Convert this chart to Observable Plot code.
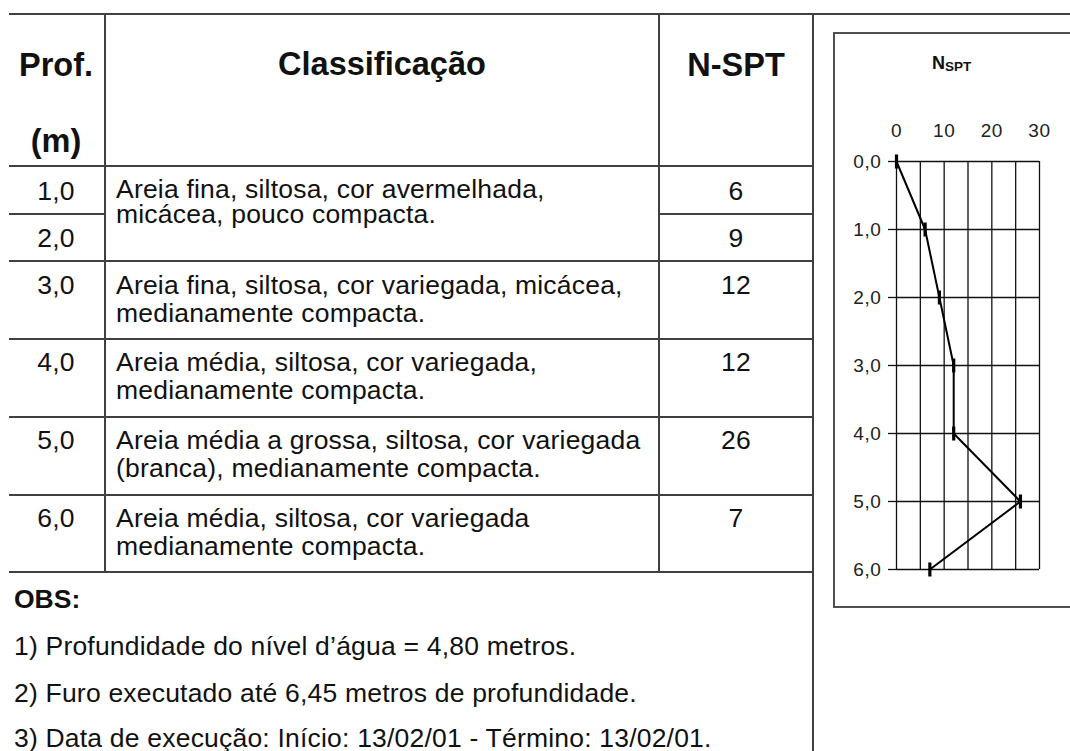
<!DOCTYPE html>
<html>
<head>
<meta charset="utf-8">
<script src="https://cdn.jsdelivr.net/npm/d3@7"></script>
<script src="https://cdn.jsdelivr.net/npm/@observablehq/plot@0.6"></script>
<style>
  html, body { margin: 0; padding: 0; background: #fff; }
  body { width: 1070px; height: 751px; overflow: hidden; position: relative;
         font-family: "Liberation Sans", Arial, sans-serif; color: #111; }
  .t { position: absolute; white-space: nowrap; }
  .ln { position: absolute; background: #404040; }
  #box { position: absolute; left: 833px; top: 32px; width: 300px; height: 572px;
         border: 2px solid #505050; border-right: none; }
  #chart { position: absolute; left: 834px; top: 33px; }
</style>
</head>
<body>
<script>
// ---------- data ----------
const depths = [0, 1, 2, 3, 4, 5, 6];
const nsptProfile = [0, 6, 9, 12, 12, 26, 7];
const profLabels = ["1,0", "2,0", "3,0", "4,0", "5,0", "6,0"];
const nsptValues = [6, 9, 12, 12, 26, 7];
const classificacao = [
  ["Areia fina, siltosa, cor avermelhada,", "micácea, pouco compacta."],
  ["Areia fina, siltosa, cor variegada, micácea,", "medianamente compacta."],
  ["Areia média, siltosa, cor variegada,", "medianamente compacta."],
  ["Areia média a grossa, siltosa, cor variegada", "(branca), medianamente compacta."],
  ["Areia média, siltosa, cor variegada", "medianamente compacta."]
];
const headers = ["Prof.", "(m)", "Classificação", "N-SPT"];
const obsTitle = "OBS:";
const obsLines = [
  "1) Profundidade do nível d’água = 4,80 metros.",
  "2) Furo executado até 6,45 metros de profundidade.",
  "3) Data de execução: Início: 13/02/01 - Término: 13/02/01."
];
const chartTitle = ["N", "SPT"];
const xLabelTicks = [0, 10, 20, 30];
const xGridTicks = [0, 5, 10, 15, 20, 25, 30];
const yTicks = [0, 1, 2, 3, 4, 5, 6];

// ---------- helpers ----------
// place one line of text so that its baseline sits at `base`
function put(text, x, base, size, opts = {}) {
  const lh = opts.lineHeight || size;
  const d = document.createElement("div");
  d.className = "t";
  d.textContent = text;
  d.style.fontSize = size + "px";
  d.style.lineHeight = lh + "px";
  d.style.fontWeight = opts.bold ? "bold" : "normal";
  d.style.left = x + "px";
  d.style.top = (base - ((lh - 1.117 * size) / 2 + 0.905 * size)) + "px";
  if (opts.anchor === "middle") d.style.transform = "translateX(-50%)";
  if (opts.anchor === "end") d.style.transform = "translateX(-100%)";
  if (opts.letterSpacing) d.style.letterSpacing = opts.letterSpacing + "px";
  document.body.appendChild(d);
  return d;
}
function hline(x1, x2, y) {
  const d = document.createElement("div");
  d.className = "ln";
  Object.assign(d.style, {left: x1 + "px", top: (y - 1) + "px", width: (x2 - x1) + "px", height: "2px"});
  document.body.appendChild(d);
}
function vline(x, y1, y2) {
  const d = document.createElement("div");
  d.className = "ln";
  Object.assign(d.style, {left: (x - 1) + "px", top: y1 + "px", width: "2px", height: (y2 - y1) + "px"});
  document.body.appendChild(d);
}

// ---------- table grid ----------
const L = 9, C1 = 105, C2 = 659, R = 813;
const rowY = [166, 214, 261, 339, 417, 495, 572];
hline(L, 1070, 14);
hline(L, R, rowY[0]);
hline(L, C1, rowY[1]);
hline(C2, R, rowY[1]);
for (let i = 2; i < rowY.length; i++) hline(L, R, rowY[i]);
vline(C1, 14, rowY[6]);
vline(C2, 14, rowY[6]);
vline(R, 14, 751);

// ---------- header ----------
const HS = 32.5;
put(headers[0], 56, 77, HS, {bold: true, anchor: "middle"});
put(headers[1], 56, 153, HS, {bold: true, anchor: "middle"});
put(headers[2], 382, 76, HS, {bold: true, anchor: "middle"});
put(headers[3], 736, 77, HS, {bold: true, anchor: "middle"});

// ---------- rows ----------
const BS = 26.5, LS = 0.2, TLH = 22;
const profBase = [200, 247, 294, 371, 449, 527];
profLabels.forEach((p, i) => put(p, 56, profBase[i], BS, {anchor: "middle", letterSpacing: LS, lineHeight: TLH}));
nsptValues.forEach((v, i) => put(String(v), 736, profBase[i], BS, {anchor: "middle", letterSpacing: LS, lineHeight: TLH}));
const classBase = [198, 294, 371, 449, 527];
const classLead = [25, 28, 28, 28, 28];
classificacao.forEach((lines, i) =>
  lines.forEach((t, j) => put(t, 116, classBase[i] + j * classLead[i], BS, {lineHeight: TLH, letterSpacing: LS})));

// ---------- observations ----------
put(obsTitle, 14, 608, BS, {bold: true, lineHeight: TLH});
const obsBase = [655, 702, 747];
obsLines.forEach((t, i) => put(t, 14, obsBase[i], BS, {letterSpacing: LS, lineHeight: TLH}));

// ---------- chart ----------
const box = document.createElement("div");
box.id = "box";
document.body.appendChild(box);

put(chartTitle[0], 932, 69, 18, {bold: true});
put(chartTitle[1], 945, 71.5, 13.5, {bold: true});

const profile = depths.map((d, i) => ({depth: d, n: nsptProfile[i]}));
const tickSymbol = {
  draw(context) {
    context.moveTo(-1.6, -7);
    context.lineTo(1.6, -7);
    context.lineTo(1.6, 7);
    context.lineTo(-1.6, 7);
    context.closePath();
  }
};

const chart = Plot.plot({
  width: 240,
  height: 573,
  marginLeft: 62,
  marginRight: 35,
  marginTop: 128,
  marginBottom: 37,
  style: {fontFamily: "Liberation Sans, Arial, sans-serif", fontSize: "19px", color: "#222", background: "transparent", overflow: "visible", letterSpacing: "0.6px"},
  x: {domain: [0, 30], axis: null, label: null},
  y: {domain: [0, 6], reverse: true, axis: null, label: null},
  marks: [
    Plot.ruleX(xGridTicks, {y1: 0, y2: 6, stroke: "#111", strokeWidth: 1.3}),
    Plot.ruleY(yTicks, {x1: 0, x2: 30, stroke: "#111", strokeWidth: 1.3}),
    Plot.axisY(yTicks, {anchor: "left", label: null, tickSize: 8, tickPadding: 7, stroke: "#111", strokeWidth: 1.3,
      tickFormat: d => d.toFixed(1).replace(".", ","), fill: "#222", fontSize: 19}),
    Plot.axisX(xLabelTicks, {anchor: "top", label: null, tickSize: 0, tickPadding: 25, fill: "#222", fontSize: 19}),
    Plot.line(profile, {x: "n", y: "depth", stroke: "#000", strokeWidth: 2}),
    Plot.dot(profile, {x: "n", y: "depth", symbol: tickSymbol, fill: "#000", stroke: "none", r: 3})
  ]
});
chart.id = "chart";
document.body.appendChild(chart);
</script>
</body>
</html>
